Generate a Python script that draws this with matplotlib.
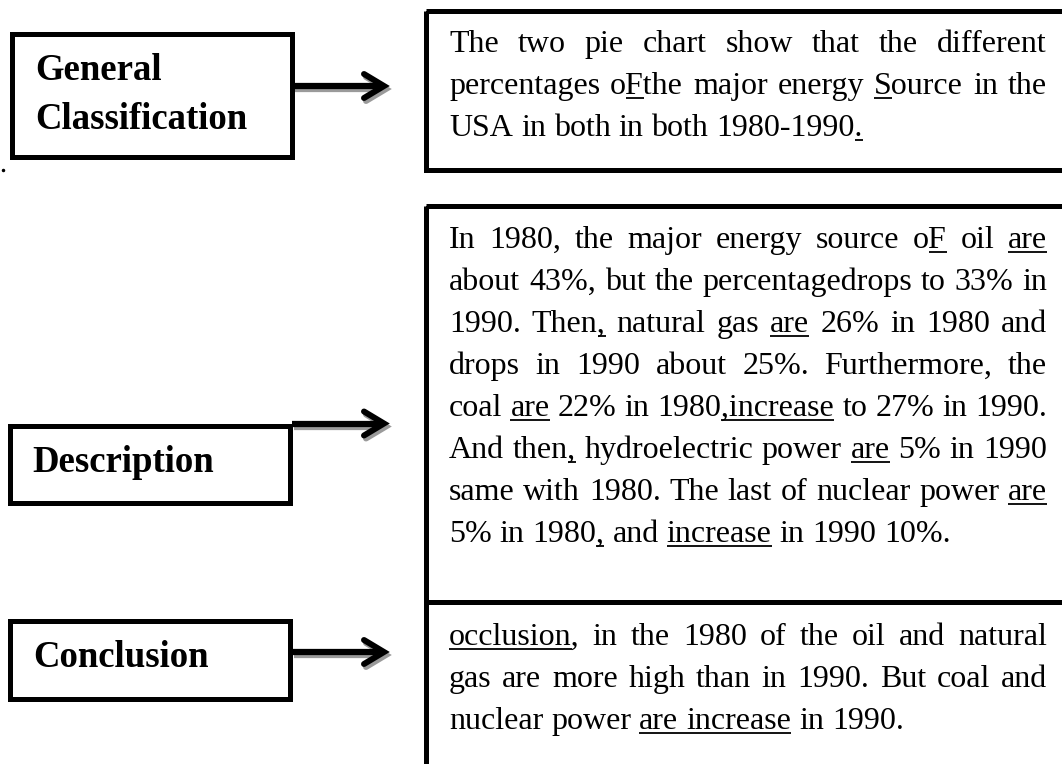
import matplotlib
matplotlib.use('Agg')
import matplotlib.pyplot as plt
from matplotlib.patches import Rectangle

# left hand labels (one entry per printed line)
label_general = ['General', 'Classification']
label_description = ['Description']
label_conclusion = ['Conclusion']

# right hand paragraphs, one string per printed line, _..._ = underlined
para_general = [
    'The two pie chart show that the different',
    'percentages o_F_the major energy _S_ource in the',
    'USA in both in both 1980-1990_._',
]
para_description = [
    'In 1980, the major energy source o_F_ oil _are_',
    'about 43%, but the percentagedrops to 33% in',
    '1990. Then_,_ natural gas _are_ 26% in 1980 and',
    'drops in 1990 about 25%. Furthermore, the',
    'coal _are_ 22% in 1980_,increase_ to 27% in 1990.',
    'And then_,_ hydroelectric power _are_ 5% in 1990',
    'same with 1980. The last of nuclear power _are_',
    '5% in 1980_,_ and _increase_ in 1990 10%.',
]
para_conclusion = [
    '_occlusion_, in the 1980 of the oil and natural',
    'gas are more high than in 1990. But coal and',
    'nuclear power _are increase_ in 1990.',
]

W, H = 1062, 764
fig = plt.figure(figsize=(W / 100, H / 100), dpi=100)
ax = fig.add_axes([0, 0, 1, 1])
ax.set_xlim(0, W)
ax.set_ylim(H, 0)
ax.axis('off')
renderer = fig.canvas.get_renderer()

body = dict(family='Liberation Serif', size=23, color='black')
bold = dict(family='Liberation Serif', size=26.5, weight='bold', color='black')
BORDER = 3.6

_cache = {}
def text_width(s):
    if s == '':
        return 0.0
    if s not in _cache:
        t = ax.text(0, 0, s, **body)
        _cache[s] = t.get_window_extent(renderer).width
        t.remove()
    return _cache[s]

def parse(line):
    words, gaps, cur, ul = [], [], [], False
    for ch in line:
        if ch == '_':
            ul = not ul
        elif ch == ' ':
            words.append(cur)
            gaps.append(ul)
            cur = []
        else:
            cur.append((ch, ul))
    words.append(cur)
    return words, gaps

def paragraph(lines, x0, x1, y0, step):
    for i, line in enumerate(lines):
        y = y0 + i * step
        words, gaps = parse(line)
        strs = [''.join(c for c, _ in w) for w in words]
        widths = [text_width(s) for s in strs]
        if i < len(lines) - 1 and len(words) > 1:
            gap = (x1 - x0 - sum(widths)) / (len(words) - 1)
        else:
            gap = 0.25 * 23 * 100 / 72
        x = x0
        for j, (w, s) in enumerate(zip(words, strs)):
            ax.text(x, y, s, ha='left', va='baseline', **body)
            k = 0
            while k < len(w):
                if w[k][1]:
                    k1 = k
                    while k1 < len(w) and w[k1][1]:
                        k1 += 1
                    xs = x + text_width(s[:k])
                    xe = x + text_width(s[:k1])
                    ax.plot([xs, xe], [y + 4, y + 4], color='black', lw=1.3,
                            solid_capstyle='butt')
                    k = k1
                else:
                    k += 1
            if j < len(gaps) and gaps[j]:
                ax.plot([x + widths[j], x + widths[j] + gap], [y + 4, y + 4],
                        color='black', lw=1.3, solid_capstyle='butt')
            x += widths[j] + gap

def label_box(x, y, w, h, lines, tx, ty, step=49):
    ax.add_patch(Rectangle((x, y), w, h, fill=False, ec='black', lw=BORDER))
    for i, s in enumerate(lines):
        ax.text(tx, ty + i * step, s, ha='left', va='baseline', **bold)

def arrow(x0, x1, y):
    for dx, dy, c in [(2, 3, '#9a9a9a'), (0, 0, 'black')]:
        ax.plot([x0 + dx, x1 - 3 + dx], [y + dy, y + dy], color=c, lw=4.5,
                solid_capstyle='butt')
        ax.plot([x1 - 20 + dx, x1 + dx, x1 - 20 + dx],
                [y - 12 + dy, y + dy, y + 12 + dy], color=c, lw=4.3,
                solid_joinstyle='miter', solid_capstyle='round')

# left boxes
label_box(11.5, 34, 280, 122.5, label_general, 35, 80)
label_box(9.5, 425.5, 280, 77.5, label_description, 32, 472)
label_box(9.5, 620.5, 280, 78, label_conclusion, 33, 667)
ax.plot(3, 170, 'o', ms=1.5, color='black')

# arrows
arrow(293, 384, 86)
arrow(292, 384, 423.5)
arrow(292, 384, 652)

# right boxes (run past the right/bottom edge like the original)
ax.add_patch(Rectangle((425.5, 10.5), 700, 159.5, fill=False, ec='black',
                       lw=BORDER, clip_on=True))
ax.add_patch(Rectangle((425.5, 205.5), 700, 396, fill=False, ec='black',
                       lw=BORDER, clip_on=True))
ax.add_patch(Rectangle((425.5, 601.5), 700, 300, fill=False, ec='black',
                       lw=BORDER, clip_on=True))

paragraph(para_general, 449, 1047, 52, 42)
paragraph(para_description, 449, 1047, 248, 42)
paragraph(para_conclusion, 449, 1047, 645, 42)

fig.savefig('out.png', dpi=100)
